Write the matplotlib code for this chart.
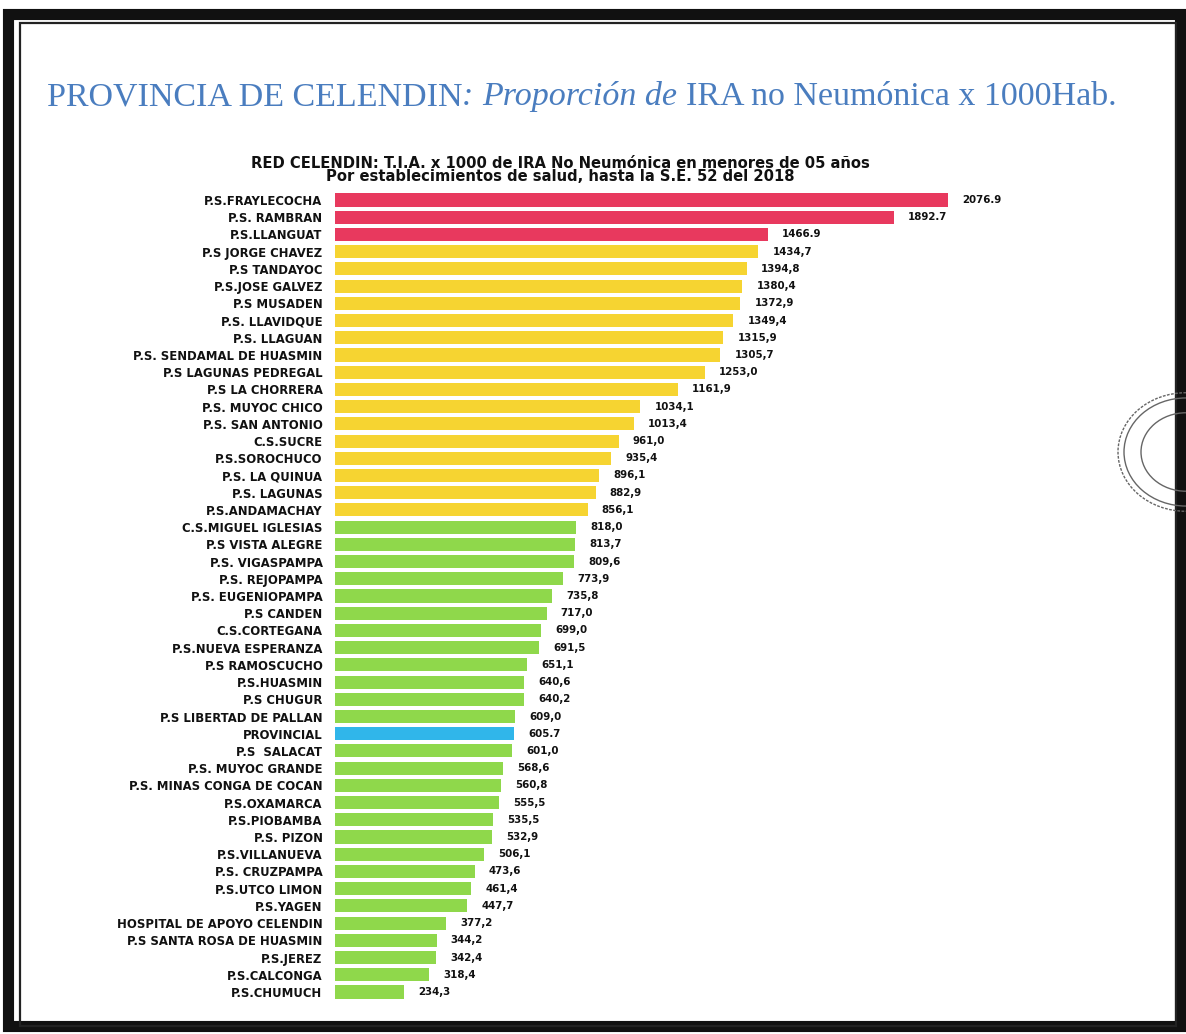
import matplotlib
matplotlib.use("Agg")
import matplotlib.pyplot as plt
from matplotlib.patches import Rectangle, Circle
import numpy as np

# ---------------- data ----------------
establecimientos = [
    "P.S.FRAYLECOCHA", "P.S. RAMBRAN", "P.S.LLANGUAT", "P.S JORGE CHAVEZ",
    "P.S TANDAYOC", "P.S.JOSE GALVEZ", "P.S MUSADEN", "P.S. LLAVIDQUE",
    "P.S. LLAGUAN", "P.S. SENDAMAL DE HUASMIN", "P.S LAGUNAS PEDREGAL",
    "P.S LA CHORRERA", "P.S. MUYOC CHICO", "P.S. SAN ANTONIO", "C.S.SUCRE",
    "P.S.SOROCHUCO", "P.S. LA QUINUA", "P.S. LAGUNAS", "P.S.ANDAMACHAY",
    "C.S.MIGUEL IGLESIAS", "P.S VISTA ALEGRE", "P.S. VIGASPAMPA",
    "P.S. REJOPAMPA", "P.S. EUGENIOPAMPA", "P.S CANDEN", "C.S.CORTEGANA",
    "P.S.NUEVA ESPERANZA", "P.S RAMOSCUCHO", "P.S.HUASMIN", "P.S CHUGUR",
    "P.S LIBERTAD DE PALLAN", "PROVINCIAL", "P.S  SALACAT",
    "P.S. MUYOC GRANDE", "P.S. MINAS CONGA DE COCAN", "P.S.OXAMARCA",
    "P.S.PIOBAMBA", "P.S. PIZON", "P.S.VILLANUEVA", "P.S. CRUZPAMPA",
    "P.S.UTCO LIMON", "P.S.YAGEN", "HOSPITAL DE APOYO CELENDIN",
    "P.S SANTA ROSA DE HUASMIN", "P.S.JEREZ", "P.S.CALCONGA", "P.S.CHUMUCH",
]

tia = [
    2076.9, 1892.7, 1466.9, 1434.7, 1394.8, 1380.4, 1372.9, 1349.4, 1315.9,
    1305.7, 1253.0, 1161.9, 1034.1, 1013.4, 961.0, 935.4, 896.1, 882.9,
    856.1, 818.0, 813.7, 809.6, 773.9, 735.8, 717.0, 699.0, 691.5, 651.1,
    640.6, 640.2, 609.0, 605.7, 601.0, 568.6, 560.8, 555.5, 535.5, 532.9,
    506.1, 473.6, 461.4, 447.7, 377.2, 344.2, 342.4, 318.4, 234.3,
]

nivel = (["alto"] * 3 + ["medio"] * 16 + ["bajo"] * 12 + ["provincial"]
         + ["bajo"] * 15)

header_parts = [
    ("PROVINCIA DE CELENDIN", "normal"),
    (": ", "italic"),
    ("Proporción de ", "italic"),
    ("IRA no Neumónica x 1000Hab.", "normal"),
]
chart_title = ("RED CELENDIN: T.I.A. x 1000 de IRA No Neumónica en menores de 05 años\n"
               "Por establecimientos de salud, hasta la S.E. 52 del 2018")

# ---------------- styles ----------------
color_map = {"alto": "#E8395E", "medio": "#F6D431",
             "bajo": "#8FD84B", "provincial": "#30B6EA"}

W, H = 1186, 1034
fig = plt.figure(figsize=(W / 100, H / 100), dpi=100)
fig.patch.set_facecolor("white")

# frame
fig.patches.append(Rectangle((8 / W, 8 / H), 1 - 14 / W, 1 - 22 / H,
                             transform=fig.transFigure, fill=False,
                             edgecolor="#111111", linewidth=8))
fig.patches.append(Rectangle((20 / W, 8 / H), 1 - 30 / W, 1 - 31 / H,
                             transform=fig.transFigure, fill=False,
                             edgecolor="#222222", linewidth=1.6))

# partial stamp at right edge
for r, ls in [(68, (0, (2, 1))), (62, "-"), (45, "-")]:
    fig.patches.append(Circle((1186 / W, 1 - 452 / H), r / W,
                              transform=fig.transFigure, fill=False,
                              edgecolor="#666666", linewidth=1.0,
                              linestyle=ls))

# axes
n = len(tia)
ax_left = 335 / W
x_max = 2400
px_per_unit = 613 / 2076.9
ax_width = x_max * px_per_unit / W
top_px, bot_px = 200 - 8.6, 992 + 8.6
ax = fig.add_axes([ax_left, 1 - bot_px / H, ax_width, (bot_px - top_px) / H])

y = np.arange(n)
colors = [color_map[c] for c in nivel]
ax.barh(y, tia, height=0.76, color=colors, edgecolor="none")
ax.set_ylim(n - 0.5, -0.5)
ax.set_xlim(0, x_max)

ax.set_yticks(y)
ax.set_yticklabels(establecimientos, fontsize=8.4, fontweight="bold",
                   color="#111111", family="DejaVu Sans")
ax.tick_params(axis="y", length=0, pad=9)
ax.set_xticks([])
for s in ax.spines.values():
    s.set_visible(False)

for yi, v, lv in zip(y, tia, nivel):
    txt = f"{v:.1f}"
    if lv not in ("alto", "provincial"):
        txt = txt.replace(".", ",")
    ax.text(v + 48, yi, txt, va="center", ha="left", fontsize=7.4,
            fontweight="bold", color="#111111")

# chart title
fig.text(560 / W, 1 - 170 / H, chart_title, ha="center", va="center",
         fontsize=10.6, fontweight="bold", color="#111111", linespacing=0.9)

# header (mixed styles)
fig.canvas.draw()
renderer = fig.canvas.get_renderer()
x_px = 47
for txt, style in header_parts:
    t = fig.text(x_px / W, 1 - 97 / H, txt, ha="left", va="center",
                 fontsize=24.5, family="Liberation Serif", style=style,
                 color="#4A7DBF")
    bb = t.get_window_extent(renderer=renderer)
    x_px += bb.width

fig.savefig("out.png", dpi=100, facecolor="white")
